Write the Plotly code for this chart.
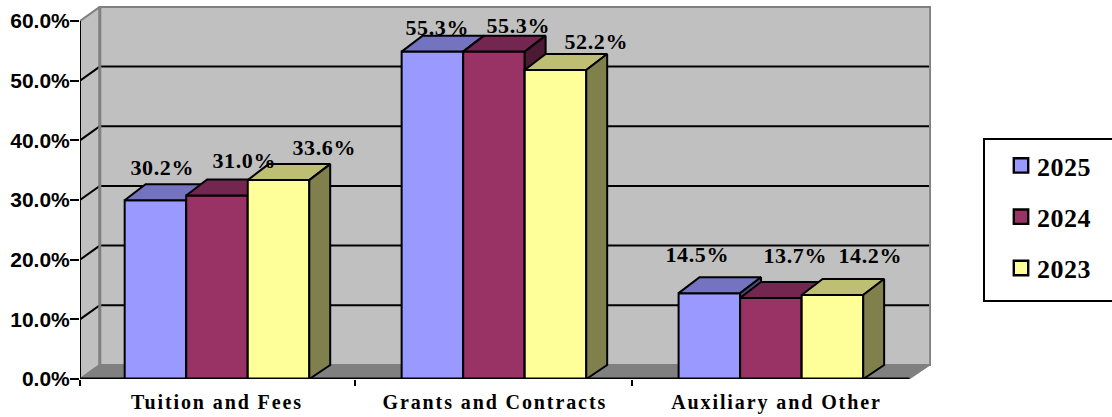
import plotly.graph_objects as go

# ---- data ----
categories = ["Tuition and Fees", "Grants and Contracts", "Auxiliary and Other"]
series_names = ["2025", "2024", "2023"]
values_2025 = [30.2, 55.3, 14.5]
values_2024 = [31.0, 55.3, 13.7]
values_2023 = [33.6, 52.2, 14.2]
y_ticks = [0, 10, 20, 30, 40, 50, 60]

# ---- style ----
front_colors = ["#9999FF", "#993366", "#FFFF99"]
top_colors = ["#7373BF", "#732650", "#BFBF73"]
side_colors = ["#4D4D80", "#4D1A33", "#80804D"]
label_xshift = [[7, 28, 46], [5, 25, 41], [-12, 25, 38]]
label_yshift = [[33, 34.5, 33], [24.6, 26.6, 28], [39, 42, 39]]
category_label_pos = [0, 1.003, 2.02]

W, H = 1112, 417
ML, MR, MT, MB = 80, 181, 5, 38
PW, PH = W - ML - MR, H - MT - MB
X_RANGE = [-0.4946, 2.578]
AXIS_PX_PER_PCT = 5.967   # left axis, back wall
BAR_PX_PER_PCT = 5.92     # the bars rise a little less than the axis, as in the source
Y_RANGE = [0, PH / AXIS_PX_PER_PCT]
BAR_RANGE = [0, PH / BAR_PX_PER_PCT]
BAR_W = 0.2222
BAR_DEPTH_X = 0.0755
WALL_DEPTH_X = 0.0715
DEPTH_Y_TOP = 2.7
DEPTH_Y_FLOOR = 2.36
FRONT_RIGHT = 2.50
BACK_RIGHT = 2.575
WALL = "#C0C0C0"
FLOOR = "#808080"
EDGE = "#808080"


def back_y(v):
    return DEPTH_Y_FLOOR + v


LEFT = X_RANGE[0]
BACK_LEFT = LEFT + WALL_DEPTH_X
traces = []


def poly(xs, ys, fill, yaxis="y", line="black", lw=2, group=None):
    return go.Scatter(x=xs, y=ys, mode="lines", fill="toself", fillcolor=fill,
                      line=dict(color=line, width=lw), yaxis=yaxis, hoverinfo="skip",
                      showlegend=False, legendgroup=group, cliponaxis=False)


def seg(xs, ys, color="black", lw=2, yaxis="y"):
    return go.Scatter(x=xs, y=ys, mode="lines", line=dict(color=color, width=lw),
                      yaxis=yaxis, hoverinfo="skip", showlegend=False, cliponaxis=False)


# walls and floor on the base axes
top_back = back_y(y_ticks[-1])
traces.append(poly([BACK_LEFT, BACK_RIGHT, BACK_RIGHT, BACK_LEFT, BACK_LEFT],
                   [back_y(0), back_y(0), top_back, top_back, back_y(0)], WALL, line=EDGE, lw=2))
traces.append(poly([LEFT, BACK_LEFT, BACK_LEFT, LEFT, LEFT],
                   [0, back_y(0), top_back, y_ticks[-1], 0], WALL, line=EDGE, lw=2))
traces.append(poly([LEFT, BACK_LEFT, BACK_RIGHT, FRONT_RIGHT, LEFT],
                   [0, back_y(0), back_y(0), 0, 0], FLOOR, line=FLOOR, lw=1))
for v in y_ticks[1:-1]:
    traces.append(seg([LEFT, BACK_LEFT, BACK_RIGHT - 0.004], [v, back_y(v), back_y(v)]))
traces.append(seg([BACK_LEFT, BACK_LEFT], [back_y(0), top_back], EDGE, 3))
traces.append(seg([LEFT, LEFT], [0, y_ticks[-1]], "black", 2))

# bars: one overlaid y axis per series so that later series cover earlier ones
all_values = [values_2025, values_2024, values_2023]
annotations = []
for s, (name, vals) in enumerate(zip(series_names, all_values)):
    ya = "y%d" % (s + 2)
    off = -1.5 * BAR_W + s * BAR_W
    traces.append(go.Bar(x=list(range(len(categories))), y=vals, name=name, yaxis=ya,
                         width=BAR_W, offset=off, legendgroup=name,
                         marker=dict(color=front_colors[s], line=dict(color="black", width=2)),
                         hovertemplate="%{y:.1f}%<extra>" + name + "</extra>"))
    for c, v in enumerate(vals):
        x0 = c + off
        x1 = x0 + BAR_W
        traces.append(poly([x0, x0 + BAR_DEPTH_X, x1 + BAR_DEPTH_X, x1, x0],
                           [v, v + DEPTH_Y_TOP, v + DEPTH_Y_TOP, v, v],
                           top_colors[s], ya, group=name))
        traces.append(poly([x1, x1 + BAR_DEPTH_X, x1 + BAR_DEPTH_X, x1, x1],
                           [0, DEPTH_Y_FLOOR, v + DEPTH_Y_TOP, v, 0],
                           side_colors[s], ya, group=name))
        annotations.append(dict(x=c + off + BAR_W / 2, y=v, xref="x", yref="y2",
                                text="%.1f%%" % v, showarrow=False,
                                xanchor="center", yanchor="middle",
                                xshift=label_xshift[c][s], yshift=label_yshift[c][s],
                                font=dict(family="Liberation Serif", size=22, color="black", weight="bold")))

# front axis line
traces.append(seg([LEFT, FRONT_RIGHT], [0, 0], "black", 3, "y4"))


def px(x):
    return (x - ML) / PW


def py(y):
    return (H - MB - y) / PH


layout_axes = {}
for i in (2, 3, 4):
    layout_axes["yaxis%d" % i] = dict(overlaying="y", range=BAR_RANGE, visible=False, fixedrange=True)

fig = go.Figure(traces)
fig.update_layout(
    width=W, height=H, autosize=False,
    margin=dict(l=ML, r=MR, t=MT, b=MB, pad=0, autoexpand=False),
    paper_bgcolor="white", plot_bgcolor="white",
    showlegend=True,
    barmode="overlay",
    xaxis=dict(range=X_RANGE, tickmode="array", tickvals=category_label_pos,
               ticktext=categories, ticks="", showgrid=False, zeroline=False, showline=False,
               tickfont=dict(family="Liberation Serif", size=20, color="black", weight="bold"),
               ticklabelstandoff=9, fixedrange=True,
               minor=dict(ticks="outside", ticklen=6, tickwidth=1.5, tickcolor="black",
                          tickmode="array", tickvals=[LEFT, 0.498, 1.498], showgrid=False)),
    yaxis=dict(range=Y_RANGE, tickmode="array", tickvals=y_ticks,
               ticktext=["%.1f%%" % v for v in y_ticks], ticks="outside", ticklen=9, tickwidth=2,
               tickcolor="black", showgrid=False, zeroline=False, showline=False, fixedrange=True,
               ticklabelstandoff=-4,
               tickfont=dict(family="Liberation Sans", size=21, color="black", weight="bold")),
    legend=dict(x=px(1001), y=py(142), xanchor="left", yanchor="top", bgcolor="rgba(0,0,0,0)",
                tracegroupgap=14.5, traceorder="grouped",
                font=dict(family="Liberation Serif", size=26, color="black", weight="bold")),
    annotations=annotations,
    shapes=[dict(type="rect", xref="paper", yref="paper", x0=px(984), x1=px(1125),
                 y0=py(301), y1=py(139), line=dict(color="black", width=2), fillcolor="white",
                 layer="below")],
    **layout_axes,
)

post = """
document.body.style.margin='0';
document.querySelectorAll('.xtick text').forEach(function(t){t.style.letterSpacing='1.9px';});
document.querySelectorAll('.annotation-text').forEach(function(t){t.style.letterSpacing='0.6px';});
document.querySelectorAll('.legendtext').forEach(function(t){
  t.style.letterSpacing='0.5px';
  t.setAttribute('x', parseFloat(t.getAttribute('x')) - 4);
});
document.querySelectorAll('.legendpoints path').forEach(function(p){
  p.setAttribute('transform', (p.getAttribute('transform')||'') + ' scale(1.2)');
});
"""
fig.write_html("out.html", post_script=post, config=dict(displayModeBar=False))
